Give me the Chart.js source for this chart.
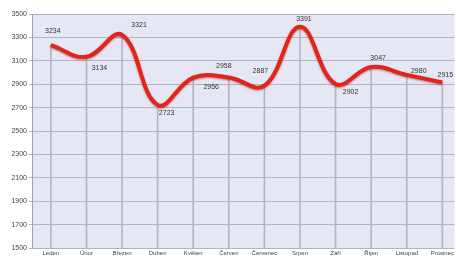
<!DOCTYPE html>
<html><head><meta charset="utf-8">
<script src="https://cdn.jsdelivr.net/npm/chart.js@4/dist/chart.umd.min.js"></script>
<style>html,body{margin:0;padding:0;background:#fff}#wrap{width:456px;height:258px;position:relative}</style>
</head><body><div id="wrap"><canvas id="c"></canvas></div>
<script>
const months = ["Leden","Únor","Březen","Duben","Květen","Červen","Červenec","Srpen","Září","Říjen","Listopad","Prosinec"];
const values = [3234,3134,3321,2723,2956,2958,2887,3391,2902,3047,2980,2915];
const yTicks = [1500,1700,1900,2100,2300,2500,2700,2900,3100,3300,3500];

const labelOffsets = [[2,-14],[13,11],[17,-10],[9,8],[18,9],[-5,-11],[-4,-15],[4,-8],[15,8],[7,-9],[12,-4],[3,-7]];

const pts = values.map((v,i)=>({x:i,y:v}));

const bgPlugin = {
  id:'bg',
  beforeDraw(chart){
    const {ctx, chartArea:a} = chart;
    ctx.save(); ctx.fillStyle='#e5e7f3'; ctx.fillRect(a.left,a.top,a.right-a.left,a.bottom-a.top); ctx.restore();
  }
};
const shadowPlugin = {
  id:'shadow',
  beforeDatasetDraw(chart,args){
    if(args.index===1){ const c=chart.ctx; c.save(); c.shadowColor='rgba(120,0,0,0.45)'; c.shadowBlur=2; c.shadowOffsetY=1; }
  },
  afterDatasetDraw(chart,args){ if(args.index===1) chart.ctx.restore(); }
};
const labelPlugin = {
  id:'vlabels',
  afterDatasetsDraw(chart){
    const ctx=chart.ctx, xs=chart.scales.x, ys=chart.scales.y;
    ctx.save(); ctx.font='7px "Liberation Sans", Arial, sans-serif'; ctx.fillStyle='#333'; ctx.textAlign='center'; ctx.textBaseline='middle';
    values.forEach((v,i)=>{
      const x=xs.getPixelForValue(i), y=ys.getPixelForValue(v);
      ctx.fillText(String(v), x+labelOffsets[i][0], y+labelOffsets[i][1]);
    });
    ctx.restore();
  }
};

new Chart(document.getElementById('c'),{
  data:{datasets:[
    {type:'bar', data:pts, backgroundColor:'#b3b5c6', borderWidth:0, barThickness:1, order:2},
    {type:'line', data:pts, borderColor:'#e2241b', borderWidth:4, tension:0.4, pointRadius:0, fill:false, order:1}
  ]},
  options:{
    responsive:true, maintainAspectRatio:false, animation:false,
    layout:{padding:{top:14,right:0,bottom:0,left:0}},
    plugins:{legend:{display:false}, tooltip:{enabled:false}},
    scales:{
      x:{type:'linear', min:-0.53, max:11.34, offset:false,
        afterBuildTicks(s){ s.ticks = months.map((m,i)=>({value:i})); },
        afterFit(s){ s.height=10; },
        grid:{display:false, drawTicks:false, tickLength:0}, border:{display:false},
        ticks:{callback:(v)=>months[Math.round(v)]||'', font:{size:6,family:'"Liberation Sans", Arial, sans-serif'}, color:'#444', padding:2, maxRotation:0, autoSkip:false}
      },
      y:{min:1500,max:3500,
        afterBuildTicks(s){ s.ticks = yTicks.map(v=>({value:v})); },
        afterFit(s){ s.width=32; },
        grid:{color:'#b2b4c4', lineWidth:1, drawTicks:true, tickLength:3},
        border:{display:true,color:'#a0a2b0'},
        ticks:{callback:(v)=>String(v), font:{size:7,family:'"Liberation Sans", Arial, sans-serif'}, color:'#444', padding:2}
      }
    }
  },
  plugins:[bgPlugin, shadowPlugin, labelPlugin]
});
</script></body></html>
